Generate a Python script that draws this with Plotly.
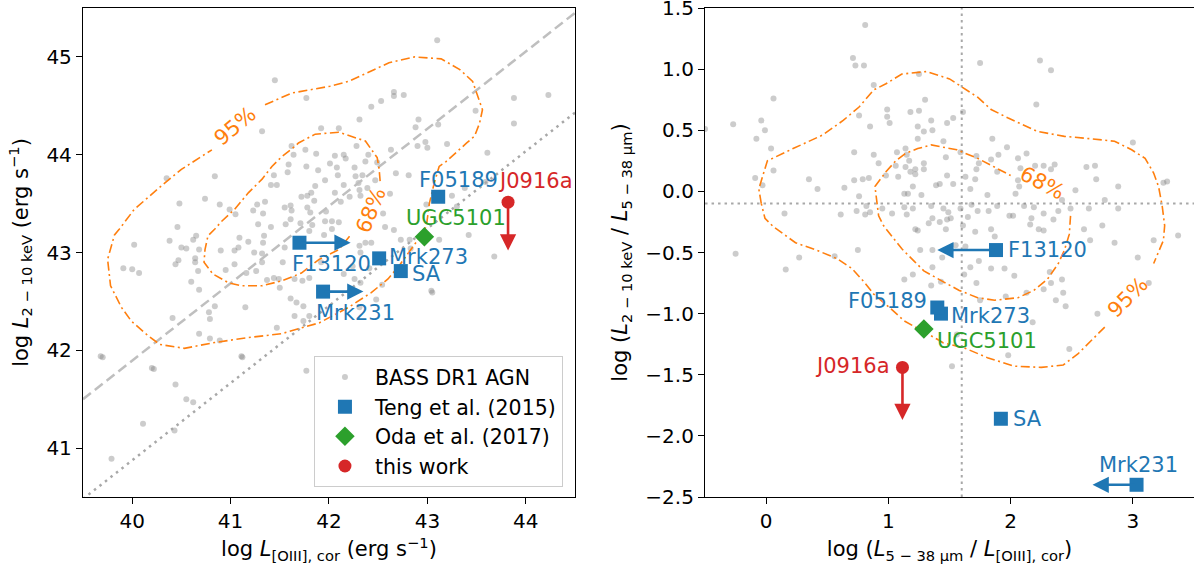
import plotly.graph_objects as go

FONT = "DejaVu Sans"
BLUE = "#1f77b4"
GREEN = "#2ca02c"
RED = "#d62728"
ORANGE = "#ff7f0e"
GRAYPT = "rgba(128,128,128,0.4)"
FS = 20      # tick labels
FL = 21      # annotations / titles

# ---------------- Left panel data: log L[OIII],cor vs log L(2-10 keV) ----------------
bass_l_x = [41.45, 41.77, 41.32, 41.92, 41.62, 41.64, 41.76, 41.87, 42.01, 41.59, 41.58, 41.77, 41.89,
            40.35, 40.84, 41.44, 41.41, 41.47, 41.86, 41.96, 40.74, 40.48, 40.89, 41.35, 41.27, 41.72,
            41.78, 41.82, 41.85, 41.55, 41.61, 41.62, 41.23, 41.33, 40.99, 41.05, 41.78, 41.81, 41.28,
            41.41, 41.56, 41.61, 41.71, 41.96, 40.46,
            43.10, 42.53, 42.43, 42.66, 42.66, 42.76, 43.88, 44.23, 42.31, 42.91, 43.49, 43.88, 43.11,
            42.10, 42.88, 42.06, 42.15, 42.17, 42.28, 42.40, 42.63, 42.90, 42.98, 43.00, 43.20, 43.61,
            42.08, 42.26, 42.37, 42.49, 42.09, 42.27, 42.34, 42.68, 42.81, 42.15, 42.30, 42.39, 42.47,
            42.06, 42.31, 42.62, 42.12, 42.21, 42.32, 41.97, 42.03, 42.10, 42.99, 43.38, 43.59, 43.25,
            43.30, 42.55,
            40.38, 40.02, 40.50, 40.55, 40.62, 40.65, 40.68, 40.47, 40.44, 40.64, 40.67, 40.64, 39.91,
            40.00, 40.07, 40.60, 40.68, 40.95, 41.04, 40.90, 41.04, 41.08, 41.09, 41.18, 41.34, 41.33,
            41.24, 41.32, 41.26, 41.16, 41.37, 41.44, 41.49, 41.55, 41.53, 41.65, 41.73, 41.80, 41.61,
            41.67, 41.65, 41.47, 41.50, 40.84, 40.78, 40.79, 40.41, 41.15, 40.68, 40.79, 40.89, 39.68,
            40.20, 41.11, 41.92, 41.32,
            41.80, 41.83, 42.03, 41.95, 42.31, 42.37, 42.43, 42.32, 42.41, 42.57, 42.66, 42.73, 42.82,
            42.83, 42.26, 42.32, 42.24, 42.15, 41.74, 41.80, 41.74, 42.31, 42.48, 42.54, 43.04, 43.42,
            43.68, 43.12,
            39.70, 40.22, 40.44, 40.62, 40.11, 40.43, 39.79, 41.77, 41.12, 43.05, 40.55]
bass_l_y = [44.76, 44.58, 44.24, 44.27, 44.09, 44.00, 44.05, 44.01, 43.91, 43.90, 43.82, 43.88, 43.84,
            43.76, 43.78, 43.79, 43.69, 43.69, 43.68, 43.74, 43.55, 43.50, 43.49, 43.52, 43.49, 43.57,
            43.58, 43.61, 43.53, 43.46, 43.48, 43.43, 43.43, 43.40, 43.44, 43.39, 43.46, 43.41, 43.29,
            43.26, 43.29, 43.34, 43.30, 43.32, 43.26,
            45.17, 44.55, 44.49, 44.64, 44.60, 44.61, 44.58, 44.61, 44.36, 44.36, 44.45, 44.32, 44.31,
            44.27, 44.28, 43.99, 44.00, 43.96, 44.09, 44.00, 44.05, 44.09, 44.13, 44.07, 44.11, 44.02,
            43.87, 43.87, 43.93, 43.92, 43.79, 43.78, 43.79, 43.81, 43.79, 43.69, 43.71, 43.66, 43.74,
            43.61, 43.64, 43.60, 43.52, 43.57, 43.58, 43.42, 43.32, 43.31, 43.49, 43.66, 43.72, 43.58,
            43.47, 43.40,
            43.12, 43.08, 43.05, 43.04, 43.13, 43.17, 43.03, 42.92, 42.88, 42.94, 42.81, 42.90, 42.84,
            42.83, 42.79, 42.70, 42.62, 42.82, 42.88, 43.02, 43.02, 43.05, 43.15, 43.11, 43.17, 43.10,
            43.00, 42.99, 42.81, 42.79, 42.72, 42.74, 42.73, 43.05, 42.90, 42.73, 42.71, 42.74, 42.53,
            42.49, 42.35, 42.23, 42.64, 42.45, 42.39, 42.32, 42.33, 42.44, 42.17, 42.12, 42.10, 41.94,
            41.82, 41.94, 42.90, 42.90,
            43.22, 43.28, 43.24, 43.18, 43.07, 43.10, 43.10, 43.00, 42.84, 43.26, 43.23, 43.13, 43.13,
            43.04, 42.73, 42.69, 42.86, 42.78, 42.45, 42.35, 42.30, 42.44, 42.52, 42.67, 42.61, 43.18,
            42.96, 43.13,
            41.93, 41.81, 41.65, 41.47, 41.25, 41.18, 40.89, 41.79, 41.93, 42.59, 41.50]

# reference relations (left panel)
rel_x = [39.5, 44.5]
rel_dashed_y = [41.50, 45.45]
rel_dotted_y = [40.48, 44.43]

# density contours (left), None = gap for inline label
c95_l_x = [41.35, 41.62, 42.01, 42.20, 42.61, 42.87, 43.14, 43.33, 43.46, 43.51, 43.56, 43.53, 43.48,
           43.40, 43.19, 43.12, 43.07, 43.02, 42.99, 42.94, 42.85, 42.71, 42.60, 42.43, 42.20, 41.90,
           41.69, 41.52, 41.18, 40.84, 40.53, 40.28, 40.16, 39.99, 39.89, 39.78, 39.75, 39.82, 39.87,
           40.02, 40.33, 40.50, 40.81, None]
c95_l_y = [44.51, 44.63, 44.70, 44.75, 44.94, 45.00, 44.98, 44.87, 44.75, 44.60, 44.46, 44.32, 44.19,
           44.12, 43.93, 43.88, 43.71, 43.50, 43.27, 43.18, 43.05, 42.86, 42.73, 42.59, 42.44, 42.28,
           42.22, 42.17, 42.13, 42.08, 42.02, 42.06, 42.15, 42.30, 42.44, 42.66, 42.93, 43.18, 43.24,
           43.44, 43.71, 43.85, 44.05, None]
c68_l_x = [42.52, 42.51, 42.49, 42.37, 42.10, 41.86, 41.69, 41.66, 41.52, 41.42, 41.32, 41.18, 41.04,
           40.91, 40.84, 40.77, 40.74, 40.73, 40.82, 40.98, 41.11, 41.32, 41.52, 41.72, 41.90, 42.10,
           42.22]
c68_l_y = [43.73, 43.85, 43.97, 44.14, 44.23, 44.21, 44.12, 44.09, 43.98, 43.88, 43.75, 43.61, 43.44,
           43.32, 43.24, 43.17, 43.03, 42.90, 42.78, 42.69, 42.66, 42.66, 42.71, 42.79, 42.93, 43.03,
           43.18]
clab_l_x = [41.05, 42.43]
clab_l_y = [44.29, 43.43]
clab_l_text = ["95%", "68%"]
clab_l_angle = [-40, -68]

# ---------------- Right panel data: log(L5-38um/L[OIII]) vs log(L2-10keV/L5-38um) ----------------
bass_r_x = [0.71, 0.73, 0.80, 0.06, -0.27, -0.50, -0.04, -0.01, -0.08, 0.04, 0.06, -0.09, -0.03, 0.35,
            0.42, 0.64, 0.72, 0.76, 0.79, 0.84, 0.72, 0.76, 0.85, 0.88, 0.88, 0.92, 0.99, 0.99, 1.01,
            0.98, 1.07, 1.06, 1.08, 1.14, 1.15, 1.17, 1.14, 1.18, 1.22, 1.22, 1.20, 1.13, 1.16, 1.27,
            1.29, 1.29, 1.30, 1.25, 1.18, 1.25, 1.24, 1.29, 1.24, 1.35, 1.36, 1.45, 1.47, 1.48, 1.39,
            1.42, 0.82, 0.95, 1.13, 1.20, 1.35, 1.45, 1.48, 0.81,
            1.75, 2.24, 2.33, 2.21, 1.61, 1.53, 1.85, 1.97, 1.59, 1.72, 1.74, 1.72, 1.84, 1.90, 1.89,
            2.06, 2.13, 2.08, 2.20, 2.27, 2.33, 2.36, 1.63, 1.53, 1.71, 1.67, 1.81, 2.06, 2.07, 2.04,
            2.53, 2.62, 2.69, 2.70, 2.88, 3.00, 2.77, 3.25, 3.28, 1.68, 1.89, 2.11, 2.42, 2.49, 2.64,
            2.88, 2.19,
            -0.25, 0.16, 0.27, 0.15, 0.61, 0.56, 0.74, 0.81, 0.85, 1.03, 1.15, 1.33, 1.36, 1.42, 1.48,
            1.22, 1.24, 1.47, 0.75, 1.26, 1.36, 1.44, 1.36, 1.20, 1.13, 1.35, 1.43,
            1.49, 1.51, 1.59, 1.65, 1.61, 1.73, 1.82, 1.99, 2.02, 2.17, 2.27, 2.35, 2.39, 1.84, 1.71,
            1.87, 2.16, 2.23, 2.27, 2.60, 2.75, 2.65, 2.85, 3.17, 3.37, 3.04, 1.55, 1.63, 1.74, 1.67,
            1.84, 1.95, 1.62, 2.03, 2.32, 2.33, 2.42, 2.27, 2.13, 1.96, 1.75, 1.72, 2.37, 2.43, 2.45,
            2.71, 3.13, 2.18, 1.98, 2.48, 1.56, 1.52]
bass_r_y = [1.09, 1.03, 1.03, 0.76, 0.55, 0.51, 0.58, 0.50, 0.43, 0.35, 0.17, 0.11, 0.05, 0.10, 0.02,
            0.03, 0.09, -0.04, 0.10, 0.11, 0.32, 0.62, 0.53, 0.87, 0.30, 0.23, 0.67, 0.61, 0.56, 0.13,
            0.32, 0.21, 0.12, 0.35, 0.30, 0.25, 0.20, 0.16, 0.18, 0.14, 0.04, -0.02, -0.02, -0.03, 0.23,
            0.18, 0.75, 0.96, 0.65, 0.66, 0.53, 0.49, 0.43, 0.58, 0.50, 0.41, 0.28, 0.13, 0.05, 0.06,
            -0.12, -0.14, -0.13, -0.14, -0.12, -0.14, 0.56, 1.36,
            1.05, 1.07, 0.99, 0.71, 0.65, 0.60, 0.43, 0.36, 0.32, 0.29, 0.23, 0.18, 0.26, 0.30, 0.16,
            0.27, 0.31, 0.19, 0.21, 0.21, 0.18, 0.22, 0.12, 0.06, 0.10, 0.02, -0.03, 0.09, 0.04, -0.02,
            0.01, 0.20, 0.21, 0.10, 0.04, 0.40, -0.07, 0.07, 0.08, -0.11, -0.12, -0.12, -0.07, -0.14,
            -0.14, -0.14, -0.13,
            -0.51, -0.64, -0.54, -0.18, -0.19, -0.53, -0.16, -0.19, -0.17, -0.18, -0.19, -0.26, -0.22,
            -0.25, -0.23, -0.31, -0.32, -0.31, -0.48, -0.48, -0.48, -0.54, -0.62, -0.68, -0.72, -0.77,
            -0.74,
            -0.17, -0.22, -0.14, -0.21, -0.28, -0.16, -0.16, -0.20, -0.20, -0.22, -0.18, -0.23, -0.16,
            -0.31, -0.33, -0.37, -0.27, -0.31, -0.32, -0.31, -0.28, -0.40, -0.42, -0.40, -0.36, -0.54,
            -0.44, -0.45, -0.57, -0.62, -0.63, -0.63, -0.68, -0.69, -0.66, -0.75, -0.72, -0.80, -0.83,
            -0.86, -0.89, -0.75, -0.89, -0.83, -0.94, -1.00, -0.75, -1.07, -1.34, -1.29, -1.17, -1.43]

vline_x = [1.6]
hline_y = [-0.1]

c95_r_x = [-0.04, -0.06, -0.03, 0.01, 0.22, 0.46, 0.63, 0.76, 0.88, 0.98, 1.11, 1.31, 1.50, 1.59,
           1.73, 1.84, 1.98, 2.22, 2.44, 2.66, 2.85, 2.99, 3.10, 3.17, 3.21, 3.24, 3.26, 3.25, 3.21,
           3.17, None, 2.77, 2.66, 2.55, 2.43, 2.25, 2.03, 1.81, 1.62, 1.45, 1.40, 1.26, 1.13, 1.02,
           0.88, 0.80, 0.70, 0.58, 0.41, 0.24, 0.06, -0.01, -0.03, -0.04]
c95_r_y = [-0.10, 0.02, 0.12, 0.25, 0.35, 0.46, 0.58, 0.69, 0.83, 0.88, 0.96, 0.98, 0.92, 0.86, 0.77,
           0.67, 0.60, 0.49, 0.45, 0.43, 0.41, 0.34, 0.27, 0.15, 0.04, -0.12, -0.28, -0.40, -0.50,
           -0.59, None, -1.11, -1.22, -1.33, -1.42, -1.44, -1.43, -1.36, -1.28, -1.24, -1.21, -1.13,
           -1.06, -0.96, -0.84, -0.74, -0.63, -0.55, -0.48, -0.42, -0.29, -0.22, -0.13, -0.10]
c68_r_x = [2.49, 2.48, 2.44, 2.39, 2.30, 2.19, 2.06, 1.87, 1.73, 1.58, 1.45, 1.40, 1.29, 1.21, 1.11,
           1.03, 0.96, 0.92, 0.91, 0.89, 0.98, 1.06, 1.14, 1.24, 1.35, 1.47, 1.56, 1.73, 1.89, 2.00]
c68_r_y = [-0.20, -0.35, -0.48, -0.59, -0.72, -0.81, -0.87, -0.89, -0.87, -0.81, -0.74, -0.71, -0.65,
           -0.57, -0.47, -0.37, -0.28, -0.20, -0.13, 0.04, 0.16, 0.25, 0.31, 0.35, 0.38, 0.36, 0.34,
           0.27, 0.19, 0.13]
clab_r_x = [2.26, 2.96]
clab_r_y = [0.07, -0.86]
clab_r_text = ["68%", "95%"]
clab_r_angle = [28, -45]

# ---------------- highlighted objects ----------------
teng_names = ["F13120", "Mrk231", "Mrk273", "SA", "F05189"]
teng_l_x = [41.70, 41.94, 42.51, 42.73, 43.11]
teng_l_y = [43.10, 42.60, 42.94, 42.81, 43.57]
teng_l_xlim = [42.22, 42.35, None, None, None]          # lower limits on L[OIII] (arrow tips)
teng_r_x = [1.88, 3.03, 1.43, 1.92, 1.40]
teng_r_y = [-0.48, -2.40, -1.00, -1.86, -0.95]
teng_r_xlim = [1.40, 2.67, None, None, None]            # upper limits (arrow tips)

oda_name = "UGC5101"
oda_l = [42.97, 43.16]
oda_r = [1.29, -1.125]

this_name = "J0916a"
this_l = [43.82, 43.515]
this_l_ylim = 43.02
this_r = [1.115, -1.44]
this_r_ylim = -1.87

ytick_r = [-2.5, -2.0, -1.5, -1.0, -0.5, 0.0, 0.5, 1.0, 1.5]

# label offsets in pixels (style): (xanchor, xshift, yshift)
lab_l = {"F13120": ("left", -9, -21), "Mrk231": ("left", -9, -21), "Mrk273": ("left", 8, 1),
         "SA": ("left", 9, -3), "F05189": ("left", -21, 17)}
lab_r = {"F13120": ("left", 10, 0), "Mrk231": ("center", 2, 20), "Mrk273": ("left", 8, -2),
         "SA": ("left", 10, 0), "F05189": ("right", -8, 7)}

fig = go.Figure()

# background sample
fig.add_trace(go.Scatter(x=bass_l_x, y=bass_l_y, mode="markers", name="BASS DR1 AGN",
                         marker=dict(color=GRAYPT, size=6, line=dict(width=0)),
                         xaxis="x", yaxis="y", legendgroup="a"))
fig.add_trace(go.Scatter(x=bass_r_x, y=bass_r_y, mode="markers", showlegend=False,
                         marker=dict(color=GRAYPT, size=6, line=dict(width=0)),
                         xaxis="x2", yaxis="y2"))

# reference relations
fig.add_trace(go.Scatter(x=rel_x, y=rel_dashed_y, mode="lines", showlegend=False,
                         line=dict(color="#bfbfbf", width=2.5, dash="10px,5px"), xaxis="x", yaxis="y"))
fig.add_trace(go.Scatter(x=rel_x, y=rel_dotted_y, mode="lines", showlegend=False,
                         line=dict(color="#a8a8a8", width=2.5, dash="2.5px,4.5px"), xaxis="x", yaxis="y"))

# contours
cdash = "9px,3.5px,2px,3.5px"
for cx, cy in [(c95_l_x, c95_l_y), (c68_l_x, c68_l_y)]:
    fig.add_trace(go.Scatter(x=cx, y=cy, mode="lines", showlegend=False, connectgaps=False,
                             line=dict(color=ORANGE, width=1.6, dash=cdash), xaxis="x", yaxis="y"))
for cx, cy in [(c95_r_x, c95_r_y), (c68_r_x, c68_r_y)]:
    fig.add_trace(go.Scatter(x=cx, y=cy, mode="lines", showlegend=False, connectgaps=False,
                             line=dict(color=ORANGE, width=1.6, dash=cdash), xaxis="x2", yaxis="y2"))

# reference lines right panel
fig.add_shape(type="line", xref="x2", yref="y2 domain", x0=vline_x[0], x1=vline_x[0], y0=0, y1=1,
              line=dict(color="#a8a8a8", width=2, dash="2.5px,4px"), layer="below")
fig.add_shape(type="line", xref="x2 domain", yref="y2", x0=0, x1=1, y0=hline_y[0], y1=hline_y[0],
              line=dict(color="#a8a8a8", width=2, dash="2.5px,4px"), layer="below")

annotations = []


def arrow(xr, yr, x_tip, y_tip, x_tail, y_tail, color):
    annotations.append(dict(xref=xr, yref=yr, axref=xr, ayref=yr, x=x_tip, y=y_tip, ax=x_tail,
                            ay=y_tail, showarrow=True, arrowhead=2, arrowsize=1.25, arrowwidth=2.6,
                            arrowcolor=color, text=""))


def label(xr, yr, x, y, text, color, xanchor, xs, ys):
    annotations.append(dict(xref=xr, yref=yr, x=x, y=y, text=text, showarrow=False,
                            xanchor=xanchor, yanchor="middle", xshift=xs, yshift=ys,
                            font=dict(family=FONT, size=FL, color=color)))


# limit arrows
for i in range(len(teng_names)):
    if teng_l_xlim[i] is not None:
        arrow("x", "y", teng_l_xlim[i], teng_l_y[i], teng_l_x[i], teng_l_y[i], BLUE)
    if teng_r_xlim[i] is not None:
        arrow("x2", "y2", teng_r_xlim[i], teng_r_y[i], teng_r_x[i], teng_r_y[i], BLUE)
arrow("x", "y", this_l[0], this_l_ylim, this_l[0], this_l[1], RED)
arrow("x2", "y2", this_r[0], this_r_ylim, this_r[0], this_r[1], RED)

# markers
fig.add_trace(go.Scatter(x=teng_l_x, y=teng_l_y, mode="markers", name="Teng et al. (2015)",
                         marker=dict(symbol="square", color=BLUE, size=14), xaxis="x", yaxis="y",
                         legendgroup="b"))
fig.add_trace(go.Scatter(x=teng_r_x, y=teng_r_y, mode="markers", showlegend=False,
                         marker=dict(symbol="square", color=BLUE, size=14), xaxis="x2", yaxis="y2"))
fig.add_trace(go.Scatter(x=[oda_l[0]], y=[oda_l[1]], mode="markers", name="Oda et al. (2017)",
                         marker=dict(symbol="diamond", color=GREEN, size=15), xaxis="x", yaxis="y",
                         legendgroup="c"))
fig.add_trace(go.Scatter(x=[oda_r[0]], y=[oda_r[1]], mode="markers", showlegend=False,
                         marker=dict(symbol="diamond", color=GREEN, size=15), xaxis="x2", yaxis="y2"))
fig.add_trace(go.Scatter(x=[this_l[0]], y=[this_l[1]], mode="markers", name="this work",
                         marker=dict(symbol="circle", color=RED, size=13), xaxis="x", yaxis="y",
                         legendgroup="d"))
fig.add_trace(go.Scatter(x=[this_r[0]], y=[this_r[1]], mode="markers", showlegend=False,
                         marker=dict(symbol="circle", color=RED, size=13), xaxis="x2", yaxis="y2"))

# text labels
for i, n in enumerate(teng_names):
    a, xs, ys = lab_l[n]
    label("x", "y", teng_l_x[i], teng_l_y[i], n, BLUE, a, xs, ys)
    a, xs, ys = lab_r[n]
    label("x2", "y2", teng_r_x[i], teng_r_y[i], n, BLUE, a, xs, ys)
label("x", "y", oda_l[0], oda_l[1], oda_name, GREEN, "left", -20, 19)
label("x2", "y2", oda_r[0], oda_r[1], oda_name, GREEN, "left", 11, -12)
label("x", "y", this_l[0], this_l[1], this_name, RED, "left", -12, 21)
label("x2", "y2", this_r[0], this_r[1], this_name, RED, "right", -10, 1)

# contour labels
for x, y, t, a in zip(clab_l_x, clab_l_y, clab_l_text, clab_l_angle):
    annotations.append(dict(xref="x", yref="y", x=x, y=y, text=t, showarrow=False, textangle=a,
                            font=dict(family=FONT, size=FL, color=ORANGE)))
for x, y, t, a in zip(clab_r_x, clab_r_y, clab_r_text, clab_r_angle):
    annotations.append(dict(xref="x2", yref="y2", x=x, y=y, text=t, showarrow=False, textangle=a,
                            font=dict(family=FONT, size=FL, color=ORANGE)))

axis_common = dict(showgrid=False, zeroline=False, showline=True, linecolor="black", linewidth=1.3,
                   mirror=True, ticks="outside", ticklen=6, tickwidth=1.3, tickcolor="black",
                   automargin=False, ticklabeloverflow="allow",
                   tickfont=dict(family=FONT, size=FS, color="black"))

fig.update_layout(
    width=1194, height=571,
    margin=dict(l=83, r=0, t=8, b=74, autoexpand=False),
    paper_bgcolor="white", plot_bgcolor="white",
    font=dict(family=FONT, size=FS, color="black"),
    xaxis=dict(domain=[0, 0.4428], range=[39.5, 44.5], tickvals=[40, 41, 42, 43, 44],
               title=dict(text="log <i>L</i><sub>[OIII], cor</sub> (erg s<sup>−1</sup>)",
                          font=dict(family=FONT, size=FL), standoff=9), anchor="y",
               **axis_common),
    yaxis=dict(domain=[0, 1], range=[40.5, 45.5], tickvals=[41, 42, 43, 44, 45],
               title=dict(text="log <i>L</i><sub>2 − 10 keV</sub> (erg s<sup>−1</sup>)",
                          font=dict(family=FONT, size=FL), standoff=12), anchor="x",
               **axis_common),
    xaxis2=dict(domain=[0.5599, 1.0], range=[-0.5, 3.5], tickvals=[0, 1, 2, 3],
                title=dict(text="log (<i>L</i><sub>5 − 38 μm</sub> / <i>L</i><sub>[OIII], cor</sub>)",
                           font=dict(family=FONT, size=FL), standoff=9), anchor="y2",
                **axis_common),
    yaxis2=dict(domain=[0, 1], range=[-2.5, 1.5], tickvals=ytick_r, tickformat=".1f",
                title=dict(text="log (<i>L</i><sub>2 − 10 keV</sub> / <i>L</i><sub>5 − 38 μm</sub>)",
                           font=dict(family=FONT, size=FL), standoff=11), anchor="x2",
                **axis_common),
    legend=dict(x=0.432, xanchor="right", y=0.02, yanchor="bottom", bgcolor="rgba(255,255,255,0.85)",
                bordercolor="#cccccc", borderwidth=1, font=dict(family=FONT, size=20.5),
                tracegroupgap=0, traceorder="grouped", itemsizing="trace", itemwidth=50),
    annotations=annotations,
    showlegend=True,
)

# remove the default 8px page margin so the figure fills the window exactly
fig.write_html("out.html", config={"displayModeBar": False},
               post_script="document.body.style.margin='0px';")
